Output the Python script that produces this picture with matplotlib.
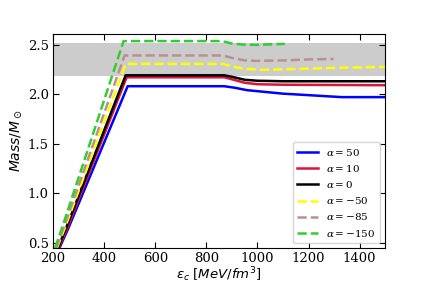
import matplotlib
matplotlib.use('Agg')
import matplotlib.pyplot as plt

plt.rcParams['font.family'] = 'serif'
plt.rcParams['font.serif'] = ['DejaVu Serif']
plt.rcParams['mathtext.fontset'] = 'dejavuserif'

# energy density (MeV/fm^3) and mass (M_sun)
x50 = [225, 260, 492, 870, 910, 960, 1000, 1100, 1200, 1330, 1500]
m50 = [0.45, 0.65, 2.08, 2.08, 2.065, 2.04, 2.03, 2.005, 1.99, 1.97, 1.97]

x10 = [222, 257, 488, 870, 900, 950, 1000, 1100, 1500]
m10 = [0.45, 0.66, 2.17, 2.17, 2.15, 2.115, 2.10, 2.095, 2.09]

x0 = [219, 254, 484, 870, 900, 950, 1000, 1100, 1500]
m0 = [0.45, 0.67, 2.19, 2.19, 2.175, 2.145, 2.135, 2.13, 2.13]

xm50 = [215, 249, 484, 865, 900, 950, 1020, 1100, 1300, 1500]
mm50 = [0.45, 0.67, 2.305, 2.305, 2.28, 2.255, 2.245, 2.25, 2.265, 2.275]

xm85 = [212, 245, 480, 865, 900, 950, 1000, 1100, 1200, 1298]
mm85 = [0.45, 0.68, 2.39, 2.39, 2.365, 2.34, 2.335, 2.34, 2.35, 2.355]

xm150 = [208, 240, 476, 860, 900, 950, 1000, 1050, 1107]
mm150 = [0.45, 0.69, 2.535, 2.535, 2.51, 2.498, 2.497, 2.502, 2.507]

band = (2.18, 2.52)

fig = plt.figure(figsize=(4.28, 2.85), dpi=100)
ax = fig.add_axes([0.124, 0.13, 0.776, 0.752])

ax.axhspan(band[0], band[1], color='gray', alpha=0.4, lw=0)

ax.plot(x50, m50, '-', color='blue', lw=1.8, label=r'$\alpha=50$')
ax.plot(x10, m10, '-', color='crimson', lw=1.8, label=r'$\alpha=10$')
ax.plot(x0, m0, '-', color='black', lw=1.8, label=r'$\alpha=0$')
ax.plot(xm50, mm50, '--', color='yellow', lw=1.8, label=r'$\alpha=-50$')
ax.plot(xm85, mm85, '--', color='rosybrown', lw=1.8, label=r'$\alpha=-85$')
ax.plot(xm150, mm150, '--', color='limegreen', lw=1.8, label=r'$\alpha=-150$')

ax.set_xlim(200, 1500)
ax.set_ylim(0.45, 2.61)
ax.set_yticks([0.5, 1.0, 1.5, 2.0, 2.5])
ax.tick_params(direction='in', top=True, right=True, labelsize=9.5, length=4, pad=3)

ax.set_xlabel(r'$\varepsilon_c$ [$MeV/fm^3$]', fontsize=9.5, labelpad=0,
              math_fontfamily='dejavusans')
ax.set_ylabel(r'$Mass/M_\odot$', fontsize=10, labelpad=3,
              math_fontfamily='dejavusans')

ax.legend(loc='lower right', fontsize=7.5)

fig.savefig('out.png', dpi=100)
